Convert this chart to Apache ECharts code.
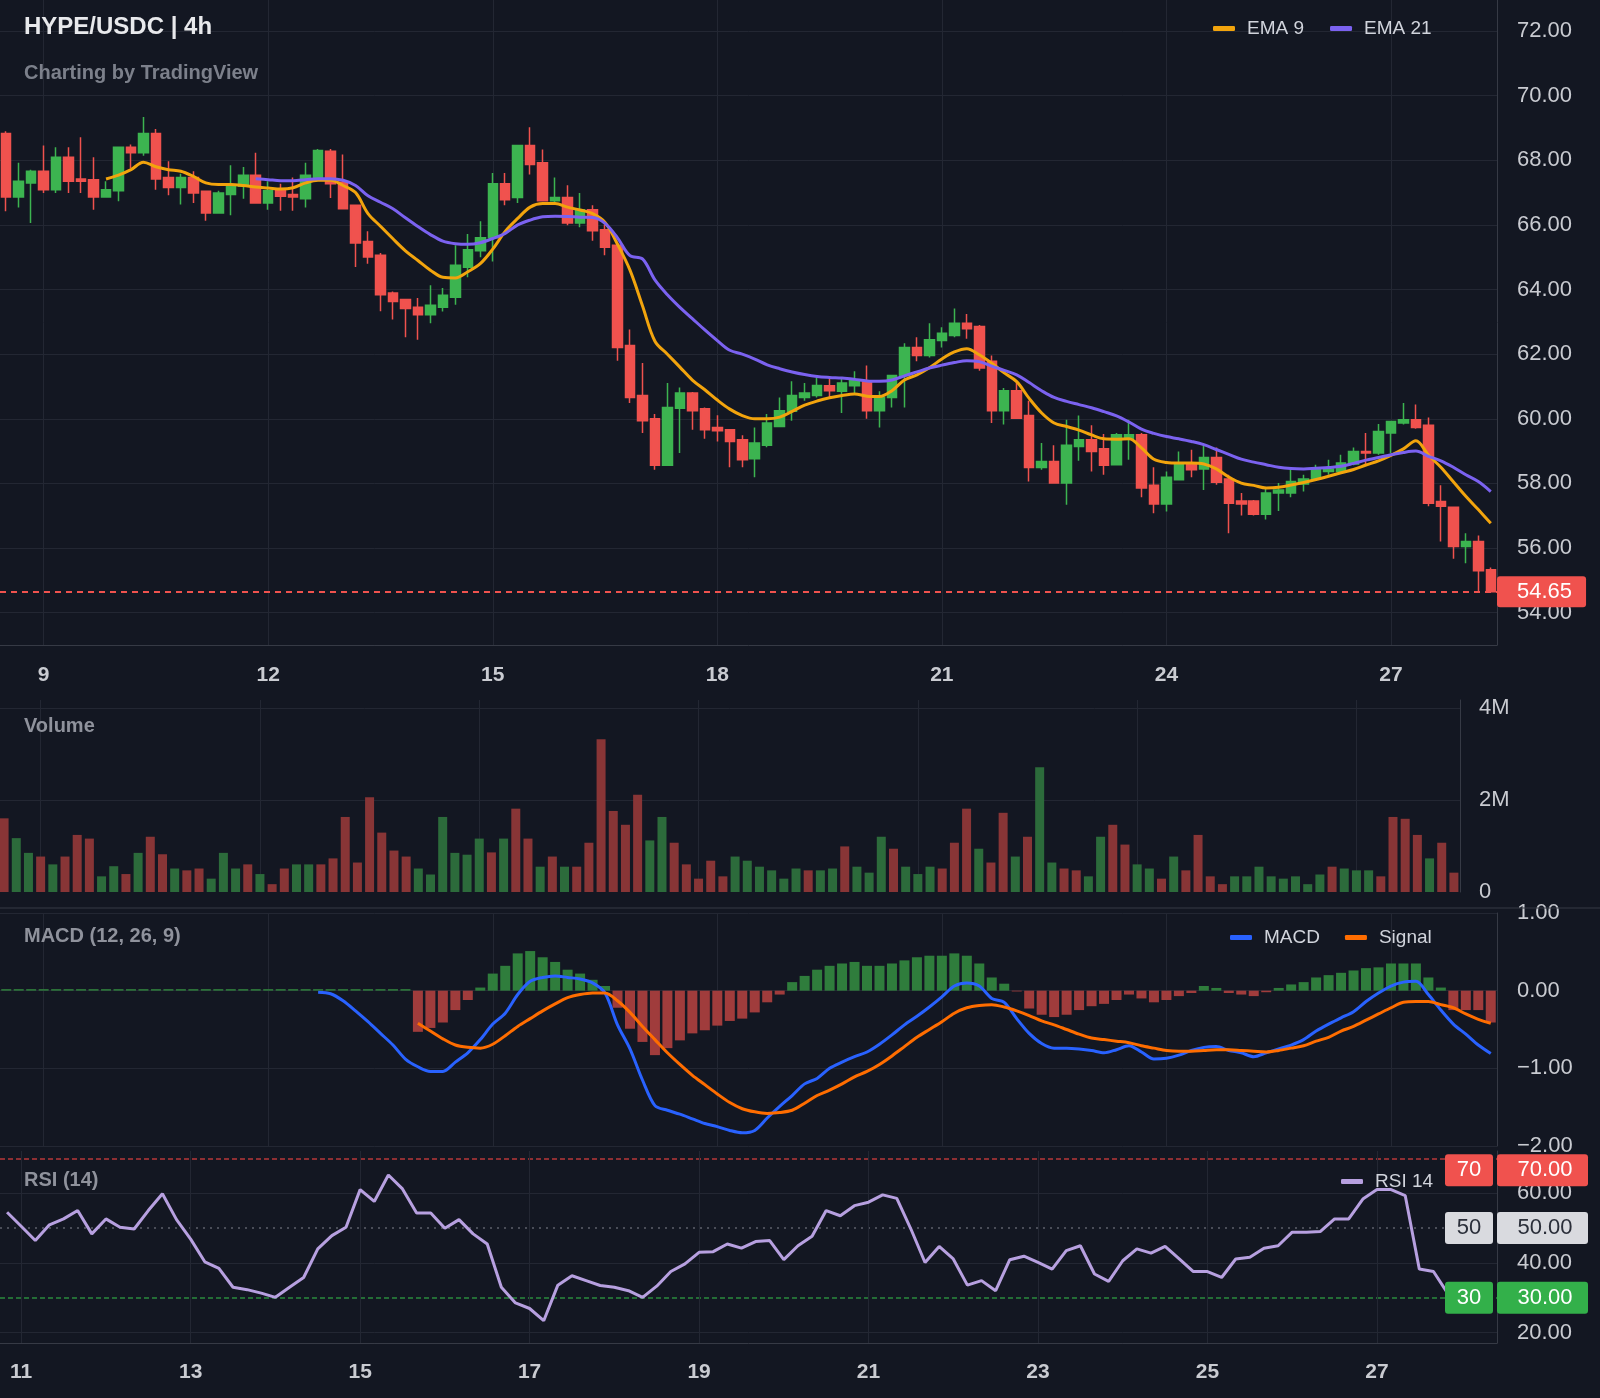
<!DOCTYPE html>
<html lang="en">
<head>
<meta charset="UTF-8">
<title>HYPE/USDC 4h</title>
<script src="https://cdn.jsdelivr.net/npm/echarts@6/dist/echarts.min.js"></script>
<style>
    html, body { margin: 0; padding: 0; background: #131722; }
    #main { width: 1600px; height: 1398px; }
</style>
</head>
<body>
<div id="main"></div>

<script type="text/javascript">

    // ---- data ----
    // 4h candles, first one is the 8th 12:00
    var openP = [68.83,66.86,67.30,67.66,67.09,68.09,67.42,67.40,66.86,67.06,
        68.40,68.23,68.83,67.47,67.16,67.47,67.04,66.37,66.94,67.20,
        67.54,66.68,67.06,66.94,66.81,67.47,68.28,67.32,66.61,65.49,
        65.06,63.89,63.69,63.45,63.22,63.45,63.76,64.69,65.20,65.60,
        67.27,66.85,68.46,67.92,66.75,66.85,66.06,66.47,65.85,65.37,
        62.27,60.72,60.00,58.56,60.33,60.80,60.31,59.73,59.66,59.35,
        58.76,59.18,59.76,60.23,60.66,60.72,61.02,60.85,61.02,61.14,
        60.25,60.66,61.34,62.21,61.96,62.42,62.58,62.96,62.86,61.78,
        60.25,60.87,60.10,58.49,58.68,58.01,59.14,59.35,59.07,58.58,
        59.40,59.51,57.94,57.36,58.11,58.58,58.45,58.80,58.14,57.46,
        57.46,57.05,57.70,57.70,57.98,58.14,58.37,58.37,58.60,58.99,
        58.94,59.56,59.87,59.97,59.80,57.44,57.26,56.05,56.20,55.33];
    var highP = [68.90,67.92,67.71,68.46,68.40,68.40,68.71,68.09,67.35,68.40,
        68.49,69.34,68.97,67.97,67.58,67.66,67.04,67.06,67.85,67.79,
        68.23,67.35,67.27,67.47,67.92,68.35,68.35,68.18,66.63,65.80,
        65.13,63.94,63.69,63.74,64.13,64.05,65.37,65.72,66.11,67.61,
        67.61,68.46,69.02,68.33,67.47,67.23,66.99,66.61,66.01,65.45,
        62.76,61.73,60.15,61.11,60.97,60.83,60.35,60.11,59.66,59.49,
        59.73,60.15,60.66,61.16,61.11,61.28,61.28,61.24,61.47,61.65,
        60.85,61.34,62.34,62.52,62.96,62.83,63.41,63.24,62.90,61.96,
        60.95,61.14,60.56,59.25,59.18,59.97,60.10,59.80,59.53,59.56,
        59.97,59.56,58.50,58.37,58.99,59.04,59.20,59.11,58.27,57.70,
        57.49,57.85,58.01,58.47,58.27,58.58,58.73,58.89,59.11,59.56,
        59.84,59.94,60.49,60.44,60.04,57.94,57.26,56.46,56.39,55.40];
    var lowP = [66.42,66.54,66.06,66.99,66.99,66.99,66.99,66.47,66.86,66.73,
        67.76,68.14,67.09,66.92,66.63,66.68,66.13,66.37,66.30,66.81,
        66.68,66.47,66.44,66.44,66.54,67.47,66.83,66.50,64.70,64.80,
        63.33,63.07,62.52,62.45,62.96,63.32,63.53,64.38,65.00,64.87,
        66.61,66.68,67.56,66.75,66.68,65.99,65.93,65.51,65.06,61.80,
        60.49,59.56,58.42,58.56,58.94,59.66,59.38,59.30,58.50,58.50,
        58.19,59.12,59.76,59.94,60.56,60.66,60.62,60.18,60.80,60.00,
        59.73,60.35,60.35,61.78,61.90,62.21,62.52,62.48,61.49,59.87,
        59.82,60.02,58.06,58.42,58.01,57.34,58.70,58.37,58.27,58.56,
        58.73,57.57,57.08,57.13,58.11,58.19,57.80,57.96,56.46,57.01,
        57.01,56.88,57.15,57.57,57.75,58.14,58.27,58.32,58.56,58.56,
        58.89,58.94,59.82,59.69,57.29,56.20,55.67,55.53,54.64,54.64];
    var closeP = [66.86,67.35,67.66,67.09,68.09,67.35,67.35,66.86,67.09,68.40,
        68.23,68.83,67.42,67.16,67.47,66.99,66.37,66.99,67.20,67.54,
        66.68,67.06,66.89,66.86,67.54,68.30,67.27,66.50,65.44,65.01,
        63.84,63.63,63.41,63.22,63.51,63.82,64.75,65.23,65.60,67.27,
        66.78,68.46,67.87,66.75,66.85,66.06,66.47,65.82,65.31,62.21,
        60.66,59.94,58.56,60.35,60.80,60.25,59.66,59.63,59.30,58.73,
        59.25,59.87,60.25,60.72,60.80,61.03,60.87,61.11,61.18,60.25,
        60.66,61.34,62.21,61.96,62.45,62.65,62.96,62.79,61.57,60.25,
        60.87,60.02,58.49,58.68,58.01,59.18,59.35,58.99,58.56,59.51,
        59.51,57.86,57.36,58.19,58.58,58.42,58.80,58.04,57.39,57.36,
        57.05,57.70,57.80,58.06,58.14,58.45,58.45,58.63,58.99,58.94,
        59.61,59.92,59.97,59.73,57.39,57.29,56.05,56.20,55.30,54.65];

    var ema9 = [null,null,null,null,null,null,null,null,67.42,67.54,
        67.71,67.94,67.80,67.71,67.66,67.50,67.30,67.25,67.25,67.22,
        67.17,67.14,67.11,67.15,67.30,67.38,67.38,67.22,67.00,66.35,
        65.96,65.57,65.20,64.90,64.60,64.38,64.36,64.55,64.80,65.25,
        65.80,66.20,66.55,66.66,66.66,66.55,66.46,66.35,66.08,65.40,
        64.60,63.50,62.40,62.00,61.60,61.20,60.90,60.58,60.30,60.10,
        60.00,60.00,60.05,60.23,60.42,60.55,60.65,60.72,60.77,60.70,
        60.69,60.87,61.20,61.36,61.58,61.85,62.07,62.17,61.98,61.72,
        61.42,61.15,60.63,60.18,59.87,59.76,59.65,59.50,59.38,59.37,
        59.38,59.10,58.75,58.65,58.63,58.63,58.60,58.45,58.20,58.01,
        57.94,57.86,57.88,57.95,58.03,58.12,58.22,58.33,58.43,58.57,
        58.70,58.87,59.07,59.32,58.88,58.50,58.05,57.60,57.19,56.77];
    var ema21 = [null,null,null,null,null,null,null,null,null,null,
        null,null,null,null,null,null,null,null,null,null,
        67.43,67.40,67.37,67.37,67.40,67.43,67.43,67.38,67.22,66.90,
        66.70,66.50,66.22,65.95,65.70,65.50,65.42,65.40,65.45,65.58,
        65.74,66.00,66.15,66.25,66.27,66.26,66.24,66.23,66.05,65.60,
        65.05,64.95,64.30,63.84,63.45,63.10,62.75,62.42,62.12,62.00,
        61.85,61.67,61.55,61.45,61.37,61.31,61.28,61.26,61.22,61.17,
        61.16,61.20,61.33,61.45,61.57,61.66,61.74,61.80,61.77,61.63,
        61.50,61.36,61.12,60.87,60.66,60.54,60.44,60.34,60.22,60.09,
        59.90,59.68,59.55,59.45,59.38,59.30,59.20,59.05,58.90,58.75,
        58.66,58.58,58.50,58.46,58.45,58.47,58.49,58.53,58.62,58.72,
        58.80,58.89,58.96,59.00,58.84,58.70,58.50,58.27,58.06,57.75];

    // volume in millions, volUp: 1 = green bar, 0 = red bar
    var volume = [1.60,1.17,0.85,0.77,0.60,0.77,1.24,1.16,0.34,0.56,
        0.39,0.85,1.20,0.82,0.51,0.47,0.51,0.29,0.85,0.51,
        0.60,0.39,0.17,0.51,0.60,0.60,0.60,0.73,1.63,0.64,
        2.06,1.29,0.90,0.77,0.51,0.38,1.63,0.85,0.81,1.16,
        0.86,1.16,1.81,1.16,0.55,0.77,0.55,0.55,1.07,3.32,
        1.76,1.46,2.11,1.12,1.63,1.07,0.60,0.29,0.68,0.34,
        0.77,0.68,0.55,0.47,0.29,0.51,0.47,0.47,0.51,0.99,
        0.55,0.42,1.20,0.94,0.55,0.39,0.55,0.51,1.07,1.81,
        0.94,0.64,1.72,0.77,1.20,2.71,0.64,0.51,0.47,0.34,
        1.20,1.46,1.03,0.60,0.51,0.29,0.77,0.47,1.24,0.34,
        0.17,0.34,0.34,0.55,0.34,0.29,0.34,0.17,0.38,0.55,
        0.51,0.47,0.47,0.34,1.63,1.59,1.24,0.73,1.07,0.42];
    var volUp = [0,1,1,0,1,0,0,0,1,1,
        0,1,0,0,1,0,0,1,1,1,
        0,1,0,0,1,1,0,0,0,0,
        0,0,0,0,1,1,1,1,1,1,
        0,1,0,0,1,0,1,0,0,0,
        0,0,0,1,1,0,0,0,0,0,
        1,1,1,1,1,1,0,1,1,0,
        1,1,1,0,1,1,1,0,0,0,
        1,0,0,1,0,1,1,0,0,1,
        1,0,0,1,1,0,1,0,0,0,
        0,1,1,1,1,1,1,1,1,0,
        1,1,1,0,0,0,0,1,0,0];

    var macdHist = [0.02,0.02,0.02,0.02,0.02,0.02,0.02,0.02,0.02,0.02,
        0.02,0.02,0.02,0.02,0.02,0.02,0.02,0.02,0.02,0.02,
        0.02,0.02,0.02,0.02,0.02,0.02,0.02,0.02,0.02,0.02,
        0.02,0.02,0.02,-0.53,-0.48,-0.41,-0.25,-0.12,0.04,0.22,
        0.32,0.48,0.51,0.43,0.37,0.27,0.22,0.14,0.06,-0.22,
        -0.49,-0.66,-0.83,-0.74,-0.64,-0.55,-0.51,-0.45,-0.39,-0.36,
        -0.28,-0.15,-0.05,0.11,0.19,0.27,0.32,0.35,0.37,0.32,
        0.32,0.35,0.39,0.43,0.45,0.45,0.48,0.45,0.35,0.17,
        0.09,-0.01,-0.23,-0.31,-0.34,-0.31,-0.25,-0.20,-0.17,-0.12,
        -0.05,-0.10,-0.15,-0.12,-0.07,-0.03,0.06,0.035,-0.03,-0.05,
        -0.07,-0.02,0.035,0.08,0.11,0.17,0.20,0.23,0.26,0.29,
        0.30,0.35,0.35,0.35,0.17,0.04,-0.25,-0.25,-0.25,-0.41];
    var macdLine = [null,null,null,null,null,null,null,null,null,null,
        null,null,null,null,null,null,null,null,null,null,
        null,null,null,null,null,-0.02,-0.04,-0.13,-0.26,-0.40,
        -0.55,-0.70,-0.88,-0.98,-1.04,-1.04,-0.92,-0.80,-0.63,-0.43,
        -0.29,-0.05,0.12,0.17,0.19,0.17,0.15,0.10,-0.03,-0.44,
        -0.75,-1.15,-1.48,-1.54,-1.59,-1.65,-1.71,-1.75,-1.80,-1.83,
        -1.80,-1.64,-1.49,-1.35,-1.20,-1.13,-1.00,-0.92,-0.85,-0.79,
        -0.69,-0.57,-0.44,-0.33,-0.21,-0.08,0.06,0.10,0.06,-0.10,
        -0.15,-0.36,-0.55,-0.68,-0.74,-0.74,-0.75,-0.77,-0.80,-0.76,
        -0.71,-0.79,-0.88,-0.87,-0.83,-0.77,-0.73,-0.72,-0.77,-0.80,
        -0.85,-0.80,-0.75,-0.70,-0.63,-0.52,-0.43,-0.35,-0.27,-0.14,
        -0.03,0.06,0.11,0.12,-0.05,-0.25,-0.43,-0.56,-0.70,-0.81];
    var signalLine = [null,null,null,null,null,null,null,null,null,null,
        null,null,null,null,null,null,null,null,null,null,
        null,null,null,null,null,null,null,null,null,null,
        null,null,null,-0.42,-0.52,-0.62,-0.70,-0.73,-0.74,-0.69,
        -0.58,-0.46,-0.36,-0.26,-0.17,-0.09,-0.05,-0.03,-0.03,-0.13,
        -0.28,-0.46,-0.63,-0.80,-0.95,-1.09,-1.21,-1.33,-1.44,-1.52,
        -1.56,-1.58,-1.57,-1.54,-1.45,-1.35,-1.28,-1.20,-1.11,-1.04,
        -0.95,-0.84,-0.72,-0.60,-0.50,-0.40,-0.29,-0.22,-0.19,-0.18,
        -0.21,-0.26,-0.32,-0.39,-0.44,-0.50,-0.56,-0.61,-0.63,-0.65,
        -0.67,-0.71,-0.74,-0.77,-0.78,-0.78,-0.77,-0.76,-0.76,-0.77,
        -0.78,-0.79,-0.77,-0.74,-0.71,-0.65,-0.60,-0.52,-0.46,-0.38,
        -0.30,-0.22,-0.15,-0.14,-0.14,-0.18,-0.22,-0.30,-0.37,-0.42];

    // RSI pane runs on its own time scale, first point is the 10th 20:00
    var rsi = [54.5,50.5,46.4,50.9,52.6,55.0,48.3,52.6,50.2,49.7,
        55.0,59.8,52.4,46.8,40.3,38.4,33.0,32.3,31.3,30.1,
        33.0,35.8,44.0,47.8,50.2,61.0,57.6,65.2,61.2,54.3,
        54.3,49.9,52.4,48.3,45.4,33.0,28.5,26.9,23.4,33.6,
        36.3,34.9,33.5,33.0,32.0,30.1,33.3,37.5,39.7,43.0,
        43.2,45.4,44.2,46.1,46.4,40.9,44.9,47.6,55.0,53.5,
        56.4,57.4,59.5,58.5,49.7,40.1,44.7,41.1,33.6,34.9,
        32.0,40.9,41.9,40.1,38.2,43.5,44.9,36.8,34.7,40.6,
        44.0,42.8,44.7,41.1,37.5,37.5,35.8,41.1,41.6,44.2,
        44.9,48.8,48.8,49.0,52.6,52.6,58.3,61.0,61.0,59.3,
        38.2,37.5,31.3];
    var rsiLevels = [70, 50, 30];

    var mainTickDays = [9, 12, 15, 18, 21, 24, 27];
    var rsiTickDays = [11, 13, 15, 17, 19, 21, 23, 25, 27];

    function makeTimes(day, hour, count) {
        var out = [];
        for (var i = 0; i < count; i++) {
            out.push(day + ' ' + (hour < 10 ? '0' : '') + hour + ':00');
            hour += 4;
            if (hour >= 24) { hour -= 24; day++; }
        }
        return out;
    }
    var mainTimes = makeTimes(8, 12, 120);
    var rsiTimes = makeTimes(10, 20, 106);

    // ---- styling ----
    var FONT = 'Liberation Sans, Arial, sans-serif';
    var gridColor = '#232733';
    var borderColor = '#363a45';
    var labelColor = '#c9cbd1';
    var upColor = '#3cb450';
    var downColor = '#f0524e';
    var volGreen = '#2c6b3b';
    var volRed = '#883536';
    var histGreen = '#2f7d3c';
    var histRed = '#a03c3c';

    function isTick(days) {
        return function (index, value) {
            var p = value.split(' ');
            return p[1] === '00:00' && days.indexOf(+p[0]) >= 0;
        };
    }
    function dayOnly(value) { return value.split(' ')[0]; }

    function vGridSeries(idx, days) {
        return {
            type: 'line', xAxisIndex: idx, yAxisIndex: idx, data: [], silent: true,
            markLine: {
                silent: true, z: 1, symbol: ['none', 'none'], label: {show: false},
                lineStyle: {color: gridColor, type: 'solid', width: 1},
                data: days.map(function (d) { return {xAxis: d + ' 00:00'}; })
            }
        };
    }

    var hiddenX = {
        type: 'category', boundaryGap: true,
        axisLine: {show: false}, axisTick: {show: false}, axisLabel: {show: false}, splitLine: {show: false}
    };

    var rsiMarks = [
        {yAxis: 20, lineStyle: {color: gridColor, type: 'solid', width: 1}},
        {yAxis: 40, lineStyle: {color: gridColor, type: 'solid', width: 1}},
        {yAxis: 60, lineStyle: {color: gridColor, type: 'solid', width: 1}},
        {yAxis: rsiLevels[0], lineStyle: {color: '#b8393a', type: [5, 3], width: 1.5}},
        {yAxis: rsiLevels[1], lineStyle: {color: '#5d606b', type: [2, 5], width: 1.5}},
        {yAxis: rsiLevels[2], lineStyle: {color: '#2b8a3e', type: [5, 3], width: 1.5}}
    ].concat(rsiTickDays.map(function (d) { return {xAxis: d + ' 00:00'}; }));

    var mainChart = echarts.init(document.getElementById('main'));

    var option = {
        backgroundColor: '#131722',
        animation: false,
        textStyle: {fontFamily: FONT},
        title: [
            {text: 'HYPE/USDC | 4h', left: 24, top: 15, padding: 0,
                textStyle: {color: '#e8e9ec', fontSize: 24, fontWeight: 'bold', fontFamily: FONT}},
            {text: 'Charting by TradingView', left: 24, top: 63, padding: 0,
                textStyle: {color: '#7c808b', fontSize: 20, fontWeight: 'bold', fontFamily: FONT}},
            {text: 'Volume', left: 24, top: 716, padding: 0,
                textStyle: {color: '#8f929c', fontSize: 20, fontWeight: 'bold', fontFamily: FONT}},
            {text: 'MACD (12, 26, 9)', left: 24, top: 926, padding: 0,
                textStyle: {color: '#8f929c', fontSize: 20, fontWeight: 'bold', fontFamily: FONT}},
            {text: 'RSI (14)', left: 24, top: 1170, padding: 0,
                textStyle: {color: '#8f929c', fontSize: 20, fontWeight: 'bold', fontFamily: FONT}}
        ],
        legend: [
            {data: ['EMA 9', 'EMA 21'], left: 1213, top: 19, padding: 0, itemGap: 26,
                icon: 'roundRect', itemWidth: 22, itemHeight: 5, selectedMode: false,
                textStyle: {color: '#d1d4dc', fontSize: 19, fontFamily: FONT, padding: [0, 0, 0, 7]}},
            {data: ['MACD', 'Signal'], left: 1230, top: 928, padding: 0, itemGap: 25,
                icon: 'roundRect', itemWidth: 22, itemHeight: 5, selectedMode: false,
                textStyle: {color: '#d1d4dc', fontSize: 19, fontFamily: FONT, padding: [0, 0, 0, 7]}},
            {data: ['RSI 14'], left: 1341, top: 1172, padding: 0,
                icon: 'roundRect', itemWidth: 22, itemHeight: 5, selectedMode: false,
                textStyle: {color: '#d1d4dc', fontSize: 19, fontFamily: FONT, padding: [0, 0, 0, 7]}}
        ],
        grid: [
            {left: 0, right: 103, top: 0, height: 645, outerBoundsMode: 'none'},
            {left: -2, width: 1462, top: 700, height: 192, outerBoundsMode: 'none'},
            {left: 0, right: 103, top: 913, height: 233, outerBoundsMode: 'none'},
            {left: 0, right: 103, top: 1151, height: 192, outerBoundsMode: 'none'}
        ],
        xAxis: [
            {
                gridIndex: 0, type: 'category', data: mainTimes, boundaryGap: true,
                axisLine: {show: true, lineStyle: {color: borderColor}},
                axisTick: {show: false},
                axisLabel: {interval: isTick(mainTickDays), formatter: dayOnly, color: labelColor,
                    fontSize: 21, fontWeight: 'bold', margin: 20, fontFamily: FONT},
                splitLine: {show: false}
            },
            Object.assign({gridIndex: 1, data: mainTimes}, hiddenX),
            Object.assign({gridIndex: 2, data: mainTimes}, hiddenX),
            {
                gridIndex: 3, type: 'category', data: rsiTimes, boundaryGap: true,
                axisLine: {show: true, lineStyle: {color: borderColor}},
                axisTick: {show: false},
                axisLabel: {interval: isTick(rsiTickDays), formatter: dayOnly, color: labelColor,
                    fontSize: 21, fontWeight: 'bold', margin: 19, fontFamily: FONT},
                splitLine: {show: false}
            }
        ],
        yAxis: [
            {
                gridIndex: 0, type: 'value', position: 'right', min: 53, max: 72.96,
                splitNumber: 10, minInterval: 2, maxInterval: 2,
                axisLine: {show: true, lineStyle: {color: borderColor}},
                axisTick: {show: false},
                axisLabel: {color: labelColor, fontSize: 22, margin: 20, fontFamily: FONT,
                    showMinLabel: false, showMaxLabel: false,
                    formatter: function (v) { return v.toFixed(2); }},
                splitLine: {show: true, showMinLine: false, showMaxLine: false, lineStyle: {color: gridColor}}
            },
            {
                gridIndex: 1, type: 'value', position: 'right', min: 0, max: 4.17,
                splitNumber: 2, minInterval: 2, maxInterval: 2,
                axisLine: {show: true, lineStyle: {color: borderColor}},
                axisTick: {show: false},
                axisLabel: {color: labelColor, fontSize: 22, margin: 19, fontFamily: FONT,
                    showMaxLabel: false,
                    formatter: function (v) { return v === 0 ? '0' : v + 'M'; }},
                splitLine: {show: true, showMinLine: false, showMaxLine: false, lineStyle: {color: gridColor}}
            },
            {
                gridIndex: 2, type: 'value', position: 'right', min: -2, max: 1,
                splitNumber: 3, minInterval: 1, maxInterval: 1,
                axisLine: {show: true, lineStyle: {color: borderColor}},
                axisTick: {show: false},
                axisLabel: {color: labelColor, fontSize: 22, margin: 20, fontFamily: FONT,
                    formatter: function (v) { return v.toFixed(2).replace('-', '\u2212'); }},
                splitLine: {show: true, lineStyle: {color: gridColor}}
            },
            {
                gridIndex: 3, type: 'value', position: 'right', min: 17, max: 72.08,
                splitNumber: 5, minInterval: 10, maxInterval: 10,
                axisLine: {show: true, lineStyle: {color: borderColor}},
                axisTick: {show: false},
                axisLabel: {color: labelColor, fontSize: 22, margin: 20, fontFamily: FONT,
                    showMinLabel: false, showMaxLabel: false,
                    formatter: function (v) { return (v === 20 || v === 40 || v === 60) ? v.toFixed(2) : ''; }},
                splitLine: {show: false}
            }
        ],
        series: [
            vGridSeries(0, mainTickDays),
            {
                name: 'HYPE/USDC', type: 'candlestick', xAxisIndex: 0, yAxisIndex: 0, z: 3,
                barWidth: 10,
                data: openP.map(function (o, i) { return [o, closeP[i], lowP[i], highP[i]]; }),
                itemStyle: {color: upColor, color0: downColor, borderColor: upColor, borderColor0: downColor, borderWidth: 1.5},
                markLine: {
                    silent: true, z: 4, symbol: ['none', 'none'],
                    lineStyle: {color: downColor, type: [6, 5], width: 2},
                    label: {show: true, position: 'end', distance: 0, color: '#ffffff', fontSize: 22,
                        fontFamily: FONT, backgroundColor: downColor, padding: [5, 14, 4, 20], borderRadius: 3,
                        formatter: function (p) { return p.value.toFixed(2); }},
                    data: [{yAxis: closeP[closeP.length - 1]}]
                }
            },
            {
                name: 'EMA 9', type: 'line', xAxisIndex: 0, yAxisIndex: 0, z: 4, data: ema9,
                showSymbol: false, smooth: 0.35, color: '#f2a40d',
                lineStyle: {color: '#f2a40d', width: 3}
            },
            {
                name: 'EMA 21', type: 'line', xAxisIndex: 0, yAxisIndex: 0, z: 4, data: ema21,
                showSymbol: false, smooth: 0.35, color: '#7b62f0',
                lineStyle: {color: '#7b62f0', width: 3}
            },
            vGridSeries(1, mainTickDays),
            {
                name: 'Volume', type: 'bar', xAxisIndex: 1, yAxisIndex: 1, z: 3, barWidth: 9,
                data: volume.map(function (v, i) {
                    return {value: v, itemStyle: {color: volUp[i] ? volGreen : volRed}};
                })
            },
            vGridSeries(2, mainTickDays),
            {
                name: 'Histogram', type: 'bar', xAxisIndex: 2, yAxisIndex: 2, z: 3, barWidth: 10,
                data: macdHist.map(function (v) {
                    return {value: v, itemStyle: {color: v >= 0 ? histGreen : histRed}};
                })
            },
            {
                name: 'MACD', type: 'line', xAxisIndex: 2, yAxisIndex: 2, z: 4, data: macdLine,
                showSymbol: false, smooth: 0.3, color: '#2962ff',
                lineStyle: {color: '#2962ff', width: 3}
            },
            {
                name: 'Signal', type: 'line', xAxisIndex: 2, yAxisIndex: 2, z: 4, data: signalLine,
                showSymbol: false, smooth: 0.3, color: '#ff6d00',
                lineStyle: {color: '#ff6d00', width: 3}
            },
            {
                type: 'line', xAxisIndex: 3, yAxisIndex: 3, data: [], silent: true,
                markLine: {
                    silent: true, z: 1, symbol: ['none', 'none'], label: {show: false},
                    lineStyle: {color: gridColor, type: 'solid', width: 1},
                    data: rsiMarks
                }
            },
            {
                name: 'RSI 14', type: 'line', xAxisIndex: 3, yAxisIndex: 3, z: 4, data: rsi,
                showSymbol: false, color: '#b7a0e0',
                lineStyle: {color: '#b7a0e0', width: 3}
            }
        ]
    };

    mainChart.setOption(option);

    // value badges on the RSI pane, placed through the RSI axis
    var badgeStyle = {
        70: {fill: '#f0524e', text: '#ffffff', shift: 12},
        50: {fill: '#d9dadf', text: '#2a2e39', shift: 0},
        30: {fill: '#33b04a', text: '#ffffff', shift: 0}
    };
    var graphics = [{
        type: 'line', silent: true, z: 10,
        shape: {x1: 0, y1: 908, x2: 1600, y2: 908},
        style: {stroke: borderColor, lineWidth: 1}
    }];
    rsiLevels.forEach(function (lv) {
        var s = badgeStyle[lv];
        var y = mainChart.convertToPixel({yAxisIndex: 3}, lv) + s.shift;
        graphics.push(
            {type: 'rect', z: 20, shape: {x: 1445, y: y - 16, width: 48, height: 32, r: 3}, style: {fill: s.fill}},
            {type: 'text', z: 21, style: {text: String(lv), x: 1469, y: y, fill: s.text,
                font: '22px ' + FONT, textAlign: 'center', textVerticalAlign: 'middle'}},
            {type: 'rect', z: 20, shape: {x: 1497, y: y - 16, width: 91, height: 32, r: 3}, style: {fill: s.fill}},
            {type: 'text', z: 21, style: {text: lv.toFixed(2), x: 1545, y: y, fill: s.text,
                font: '22px ' + FONT, textAlign: 'center', textVerticalAlign: 'middle'}}
        );
    });
    mainChart.setOption({graphic: graphics});
</script>
</body>
</html>
